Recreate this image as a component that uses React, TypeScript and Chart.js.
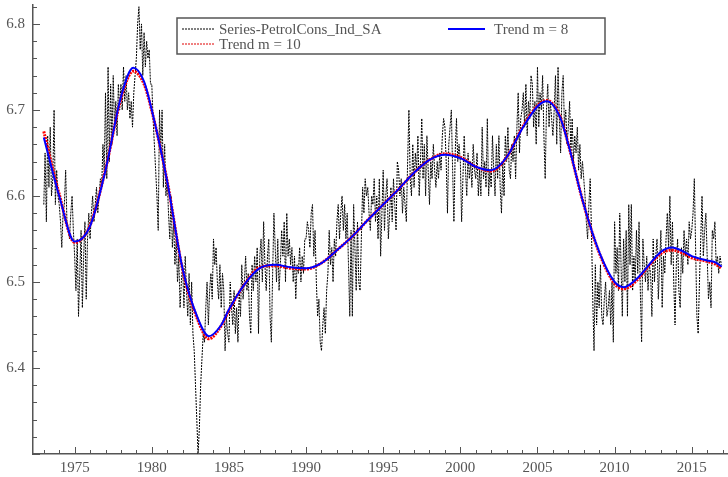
import { useEffect, useRef } from 'react';
import { Chart, registerables } from 'chart.js';

Chart.register(...registerables);

// ---------- DATA ----------
const START_YEAR = 1973; // monthly observations, January 1973 onwards

const petrolCons: number[] = [
  // 1973
  6.59, 6.65, 6.57, 6.67, 6.61, 6.68, 6.60, 6.62, 6.70, 6.59, 6.63, 6.60,
  // 1974
  6.59, 6.57, 6.54, 6.58, 6.59, 6.63, 6.57, 6.56, 6.55, 6.58, 6.60, 6.56,
  // 1975
  6.53, 6.49, 6.55, 6.46, 6.51, 6.56, 6.47, 6.53, 6.57, 6.48, 6.55, 6.58,
  // 1976
  6.55, 6.58, 6.60, 6.57, 6.59, 6.61, 6.58, 6.60, 6.62, 6.61, 6.66, 6.63,
  // 1977
  6.72, 6.62, 6.75, 6.64, 6.73, 6.66, 6.74, 6.68, 6.71, 6.67, 6.73, 6.70,
  // 1978
  6.73, 6.70, 6.75, 6.71, 6.74, 6.70, 6.72, 6.69, 6.71, 6.68, 6.72, 6.74,
  // 1979
  6.76, 6.80, 6.82, 6.77, 6.80, 6.74, 6.79, 6.75, 6.78, 6.76, 6.77, 6.73,
  // 1980
  6.73, 6.69, 6.66, 6.63, 6.60, 6.56, 6.70, 6.65, 6.70, 6.61, 6.66, 6.60,
  // 1981
  6.62, 6.58, 6.55, 6.60, 6.54, 6.57, 6.52, 6.55, 6.50, 6.53, 6.47, 6.50,
  // 1982
  6.52, 6.47, 6.53, 6.49, 6.46, 6.51, 6.45, 6.50, 6.44, 6.42, 6.38, 6.34,
  // 1983
  6.30, 6.33, 6.38, 6.41, 6.44, 6.43, 6.47, 6.50, 6.45, 6.49, 6.51, 6.48,
  // 1984
  6.55, 6.52, 6.54, 6.50, 6.48, 6.52, 6.47, 6.51, 6.49, 6.42, 6.46, 6.44,
  // 1985
  6.43, 6.50, 6.47, 6.45, 6.49, 6.44, 6.47, 6.43, 6.49, 6.46, 6.52, 6.48,
  // 1986
  6.50, 6.53, 6.49, 6.51, 6.46, 6.44, 6.52, 6.49, 6.53, 6.50, 6.54, 6.44,
  // 1987
  6.53, 6.55, 6.50, 6.57, 6.52, 6.49, 6.53, 6.55, 6.46, 6.43, 6.51, 6.58,
  // 1988
  6.54, 6.50, 6.55, 6.49, 6.52, 6.56, 6.53, 6.57, 6.50, 6.58, 6.53, 6.55,
  // 1989
  6.52, 6.54, 6.50, 6.53, 6.48, 6.52, 6.51, 6.54, 6.50, 6.53, 6.51, 6.55,
  // 1990
  6.55, 6.57, 6.56, 6.54, 6.58, 6.59, 6.53, 6.56, 6.50, 6.46, 6.48, 6.43,
  // 1991
  6.42, 6.45, 6.47, 6.44, 6.49, 6.51, 6.56, 6.52, 6.54, 6.50, 6.55, 6.53,
  // 1992
  6.57, 6.59, 6.55, 6.58, 6.60, 6.56, 6.59, 6.55, 6.58, 6.52, 6.46, 6.56,
  // 1993
  6.46, 6.59, 6.54, 6.49, 6.57, 6.50, 6.49, 6.55, 6.61, 6.58, 6.62, 6.60,
  // 1994
  6.61, 6.58, 6.56, 6.60, 6.59, 6.62, 6.57, 6.60, 6.55, 6.62, 6.53, 6.58,
  // 1995
  6.63, 6.56, 6.60, 6.62, 6.55, 6.58, 6.61, 6.57, 6.62, 6.59, 6.56, 6.64,
  // 1996
  6.63, 6.60, 6.62, 6.58, 6.61, 6.59, 6.57, 6.64, 6.70, 6.62, 6.60, 6.66,
  // 1997
  6.61, 6.65, 6.63, 6.67, 6.60, 6.64, 6.69, 6.62, 6.66, 6.60, 6.67, 6.63,
  // 1998
  6.59, 6.64, 6.62, 6.66, 6.63, 6.61, 6.64, 6.62, 6.65, 6.63, 6.67, 6.69,
  // 1999
  6.68, 6.64, 6.58, 6.66, 6.68, 6.70, 6.63, 6.57, 6.65, 6.69, 6.64, 6.66,
  // 2000
  6.64, 6.57, 6.62, 6.67, 6.63, 6.60, 6.65, 6.62, 6.64, 6.61, 6.66, 6.63,
  // 2001
  6.62, 6.65, 6.60, 6.63, 6.60, 6.68, 6.62, 6.64, 6.61, 6.69, 6.60, 6.63,
  // 2002
  6.61, 6.67, 6.63, 6.60, 6.66, 6.62, 6.67, 6.61, 6.58, 6.64, 6.60, 6.67,
  // 2003
  6.64, 6.68, 6.63, 6.62, 6.66, 6.64, 6.67, 6.62, 6.68, 6.72, 6.65, 6.69,
  // 2004
  6.70, 6.72, 6.68, 6.73, 6.67, 6.71, 6.69, 6.74, 6.73, 6.68, 6.71, 6.66,
  // 2005
  6.75, 6.68, 6.72, 6.70, 6.74, 6.67, 6.62, 6.70, 6.73, 6.68, 6.71, 6.69,
  // 2006
  6.67, 6.70, 6.74, 6.66, 6.75, 6.69, 6.65, 6.72, 6.74, 6.68, 6.70, 6.66,
  // 2007
  6.68, 6.71, 6.65, 6.69, 6.64, 6.67, 6.65, 6.68, 6.63, 6.66, 6.62, 6.64,
  // 2008
  6.62, 6.60, 6.57, 6.55, 6.59, 6.62, 6.56, 6.48, 6.42, 6.52, 6.45, 6.50,
  // 2009
  6.47, 6.52, 6.46, 6.45, 6.48, 6.50, 6.46, 6.47, 6.49, 6.45, 6.50, 6.43,
  // 2010
  6.57, 6.51, 6.54, 6.49, 6.58, 6.52, 6.46, 6.55, 6.50, 6.56, 6.46, 6.59,
  // 2011
  6.52, 6.59, 6.49, 6.53, 6.50, 6.56, 6.51, 6.57, 6.49, 6.43, 6.55, 6.52,
  // 2012
  6.50, 6.53, 6.49, 6.52, 6.51, 6.46, 6.55, 6.50, 6.53, 6.55, 6.48, 6.52,
  // 2013
  6.56, 6.47, 6.53, 6.51, 6.55, 6.58, 6.54, 6.60, 6.52, 6.57, 6.50, 6.45,
  // 2014
  6.52, 6.55, 6.49, 6.47, 6.54, 6.51, 6.56, 6.53, 6.55, 6.52, 6.57, 6.55,
  // 2015
  6.56, 6.58, 6.62, 6.54, 6.46, 6.44, 6.50, 6.55, 6.60, 6.53, 6.56, 6.58,
  // 2016
  6.53, 6.48, 6.50, 6.47, 6.56, 6.55, 6.57, 6.52, 6.53, 6.51, 6.53, 6.52,
];

const trendYears: number[] = [
  1973.0, 1974.0, 1975.0, 1976.0, 1977.0, 1978.0, 1978.8, 1979.5, 1980.0,
  1981.0, 1982.0, 1983.0, 1983.7, 1984.5, 1985.0, 1986.0, 1987.0, 1988.0,
  1989.0, 1990.0, 1991.0, 1992.0, 1993.0, 1994.0, 1995.0, 1996.0, 1997.0,
  1998.0, 1999.0, 2000.0, 2001.0, 2002.0, 2003.0, 2004.0, 2005.0, 2005.6,
  2006.5, 2007.0, 2008.0, 2009.0, 2010.0, 2010.6, 2011.5, 2012.0, 2013.0,
  2013.7, 2014.5, 2015.0, 2016.0, 2016.5, 2016.95,
];

const trendM8: number[] = [
  6.668, 6.600, 6.547, 6.565, 6.630, 6.715, 6.749, 6.733, 6.700,
  6.617, 6.515, 6.457, 6.437, 6.450, 6.468, 6.497, 6.516, 6.520,
  6.517, 6.516, 6.522, 6.537, 6.553, 6.572, 6.590, 6.608, 6.627,
  6.642, 6.648, 6.644, 6.634, 6.630, 6.645, 6.678, 6.704, 6.710,
  6.690, 6.660, 6.590, 6.535, 6.500, 6.494, 6.505, 6.515, 6.535,
  6.540, 6.535, 6.530, 6.525, 6.523, 6.518,
];

const trendM10: number[] = [
  6.675, 6.602, 6.546, 6.566, 6.631, 6.713, 6.745, 6.730, 6.699,
  6.617, 6.514, 6.455, 6.434, 6.449, 6.467, 6.497, 6.517, 6.519,
  6.516, 6.515, 6.522, 6.537, 6.553, 6.572, 6.590, 6.608, 6.627,
  6.642, 6.649, 6.645, 6.634, 6.629, 6.645, 6.679, 6.705, 6.711,
  6.691, 6.660, 6.590, 6.534, 6.498, 6.492, 6.503, 6.514, 6.533,
  6.537, 6.533, 6.528, 6.524, 6.521, 6.516,
];

const xTickYears: number[] = [1975, 1980, 1985, 1990, 1995, 2000, 2005, 2010, 2015];
const yTickValues: number[] = [6.4, 6.5, 6.6, 6.7, 6.8];

const SERIES_LABEL = 'Series-PetrolCons_Ind_SA';
const TREND8_LABEL = 'Trend m = 8';
const TREND10_LABEL = 'Trend m = 10';

// ---------- STYLE ----------
const FONT_FAMILY = '"Liberation Serif", "Times New Roman", Times, serif';
const TEXT_COLOR = '#555555';
const AXIS_COLOR = '#555555';

const decorPlugin = {
  id: 'decor',
  afterDraw(chart: any) {
    const ctx: CanvasRenderingContext2D = chart.ctx;
    const xs = chart.scales.x;
    const ys = chart.scales.y;
    const area = chart.chartArea;
    ctx.save();
    ctx.strokeStyle = AXIS_COLOR;
    ctx.lineWidth = 1;
    // x tick marks (every year, longer every 5 years), pointing inward
    for (let yr = Math.ceil(xs.min); yr <= xs.max; yr++) {
      const px = Math.round(xs.getPixelForValue(yr)) + 0.5;
      const len = yr % 5 === 0 ? 7 : 4;
      ctx.beginPath();
      ctx.moveTo(px, area.bottom);
      ctx.lineTo(px, area.bottom - len);
      ctx.stroke();
    }
    // y tick marks (every 0.02, longer every 0.1)
    for (let k = Math.ceil(ys.min * 50 - 1e-6); k / 50 <= ys.max + 1e-9; k++) {
      const py = Math.round(ys.getPixelForValue(k / 50)) + 0.5;
      const len = k % 5 === 0 ? 7 : 4;
      ctx.beginPath();
      ctx.moveTo(area.left, py);
      ctx.lineTo(area.left + len, py);
      ctx.stroke();
    }

    // legend
    const bx = area.left + 144;
    const by = 18;
    const bw = 428;
    const bh = 36;
    ctx.fillStyle = '#ffffff';
    ctx.fillRect(bx, by, bw, bh);
    ctx.strokeStyle = AXIS_COLOR;
    ctx.lineWidth = 1.5;
    ctx.strokeRect(bx, by, bw, bh);

    const row1 = by + 11;
    const row2 = by + 26;
    const drawSample = (x0: number, x1: number, y: number, color: string, dash: number[], w: number) => {
      ctx.save();
      ctx.strokeStyle = color;
      ctx.lineWidth = w;
      ctx.setLineDash(dash);
      ctx.beginPath();
      ctx.moveTo(x0, y);
      ctx.lineTo(x1, y);
      ctx.stroke();
      ctx.restore();
    };
    drawSample(bx + 5, bx + 38, row1, '#000000', [2, 1], 1);
    drawSample(bx + 5, bx + 38, row2, '#e00000', [2, 1], 1);
    drawSample(bx + 271, bx + 308, row1, '#0000ff', [], 2);

    ctx.fillStyle = TEXT_COLOR;
    ctx.font = `15px ${FONT_FAMILY}`;
    ctx.textBaseline = 'middle';
    ctx.textAlign = 'left';
    ctx.fillText(SERIES_LABEL, bx + 42, row1 + 1);
    ctx.fillText(TREND10_LABEL, bx + 42, row2 + 1);
    ctx.fillText(TREND8_LABEL, bx + 317, row1 + 1);
    ctx.restore();
  },
};

export default function App() {
  const canvasRef = useRef<HTMLCanvasElement | null>(null);

  useEffect(() => {
    if (!canvasRef.current) return;
    const seriesData = petrolCons.map((v, i) => ({ x: START_YEAR + i / 12, y: v }));
    const t8 = trendYears.map((x, i) => ({ x, y: trendM8[i] }));
    const t10 = trendYears.map((x, i) => ({ x, y: trendM10[i] }));

    const chart = new Chart(canvasRef.current, {
      type: 'line',
      data: {
        datasets: [
          {
            label: SERIES_LABEL,
            data: seriesData,
            borderColor: '#000000',
            borderWidth: 1,
            borderDash: [2, 1],
            pointRadius: 0,
            tension: 0,
            order: 3,
          },
          {
            label: TREND8_LABEL,
            data: t8,
            borderColor: '#0000ff',
            borderWidth: 2,
            pointRadius: 0,
            cubicInterpolationMode: 'monotone',
            order: 1,
          },
          {
            label: TREND10_LABEL,
            data: t10,
            borderColor: '#ff0000',
            borderWidth: 3,
            borderDash: [2, 1],
            pointRadius: 0,
            cubicInterpolationMode: 'monotone',
            order: 2,
          },
        ],
      },
      options: {
        animation: false,
        responsive: false,
        maintainAspectRatio: false,
        layout: { padding: { top: 5, right: 0, left: 0, bottom: 0 } },
        plugins: {
          legend: { display: false },
          tooltip: { enabled: false },
        },
        scales: {
          x: {
            type: 'linear',
            min: 1972.3,
            max: 2017.35,
            grid: { display: false, drawTicks: false },
            border: { display: true, color: AXIS_COLOR, width: 1.5 },
            afterBuildTicks: (scale: any) => {
              scale.ticks = xTickYears.map((v) => ({ value: v }));
            },
            afterFit: (scale: any) => {
              scale.height = 23;
              scale.paddingLeft = 0;
              scale.paddingRight = 0;
            },
            ticks: {
              padding: 5,
              color: TEXT_COLOR,
              font: { family: FONT_FAMILY, size: 15 },
              maxRotation: 0,
              autoSkip: false,
              callback: (v: any) => String(v),
            },
          },
          y: {
            type: 'linear',
            min: 6.3,
            max: 6.822,
            grid: { display: false, drawTicks: false },
            border: { display: true, color: AXIS_COLOR, width: 1.5 },
            afterBuildTicks: (scale: any) => {
              scale.ticks = yTickValues.map((v) => ({ value: v }));
            },
            afterFit: (scale: any) => {
              scale.width = 33;
              scale.paddingTop = 0;
              scale.paddingBottom = 0;
            },
            ticks: {
              padding: 8,
              color: TEXT_COLOR,
              font: { family: FONT_FAMILY, size: 15 },
              autoSkip: false,
              callback: (v: any) => Number(v).toFixed(1),
            },
          },
        },
      },
      plugins: [decorPlugin],
    });
    return () => chart.destroy();
  }, []);

  return (
    <div style={{ position: 'absolute', left: 0, top: 0, width: 728, height: 477, background: '#ffffff' }}>
      <canvas ref={canvasRef} width={728} height={477} style={{ display: 'block' }} />
    </div>
  );
}
